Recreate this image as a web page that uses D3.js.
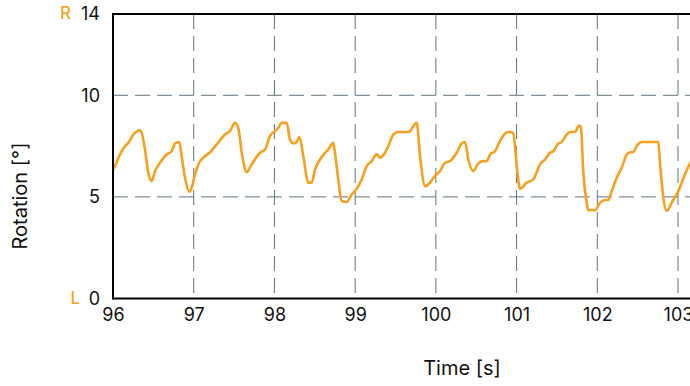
<!DOCTYPE html>
<html><head><meta charset="utf-8">
<script src="https://cdn.jsdelivr.net/npm/d3@7"></script>
<style>
html,body{margin:0;padding:0;background:#fff;}
svg{display:block;font-family:Inter,"Noto Sans",sans-serif;}
</style></head>
<body><svg id="c" width="690" height="386"></svg>
<script>
const times = [96.00,96.025,96.087,96.149,96.190,96.252,96.335,96.356,96.396,96.437,96.479,96.520,96.582,96.665,96.727,96.768,96.821,96.851,96.892,96.945,96.975,
97.016,97.057,97.140,97.202,97.285,97.388,97.450,97.512,97.552,97.595,97.656,97.718,97.821,97.883,97.945,
98.007,98.048,98.090,98.152,98.193,98.234,98.276,98.308,98.358,98.420,98.462,98.503,98.565,98.627,98.667,98.729,98.750,98.791,98.833,98.895,98.957,
99.019,99.081,99.143,99.205,99.267,99.308,99.370,99.411,99.473,99.535,99.659,99.763,99.804,99.866,99.927,99.989,
100.051,100.113,100.175,100.258,100.320,100.361,100.402,100.464,100.526,100.588,100.630,100.671,100.733,100.795,100.857,100.897,100.959,
101.002,101.043,101.126,101.207,101.290,101.352,101.414,101.455,101.517,101.559,101.621,101.662,101.724,101.774,101.798,101.827,101.869,101.889,101.972,
102.034,102.096,102.136,102.179,102.240,102.302,102.364,102.405,102.446,102.488,102.550,102.756,102.777,102.818,102.860,102.922,
103.004,103.087,103.149,103.2];
const rotation = [6.35,6.52,7.09,7.50,7.66,8.07,8.28,8.15,7.33,6.19,5.78,6.27,6.68,7.09,7.25,7.63,7.70,7.00,5.94,5.26,5.45,
6.11,6.60,7.00,7.20,7.58,8.07,8.24,8.64,8.40,7.17,6.22,6.60,7.17,7.33,7.99,
8.24,8.40,8.64,8.64,7.82,7.63,7.70,7.96,7.00,5.70,5.70,6.35,6.84,7.17,7.33,7.66,7.17,5.86,4.80,4.75,5.12,
5.40,5.86,6.52,6.76,7.09,6.93,7.17,7.50,8.07,8.19,8.19,8.64,7.00,5.53,5.70,6.03,
6.27,6.68,6.76,7.17,7.63,7.70,6.84,6.27,6.65,6.76,6.76,7.09,7.25,7.75,8.12,8.19,8.15,
6.52,5.40,5.70,5.86,6.60,6.84,7.17,7.25,7.63,7.70,8.07,8.19,8.19,8.51,8.40,6.19,4.72,4.34,4.34,
4.72,4.85,4.85,5.29,5.94,6.43,7.09,7.20,7.20,7.50,7.70,7.70,6.68,4.96,4.31,4.72,
5.29,6.11,6.65,7.0];
const xTicks = [96,97,98,99,100,101,102,103];
const yTicks = [0,5,10,14];
const yGrid = [5,10];
const xLabel = "Time [s]";
const yLabel = "Rotation [°]";
const sideLabels = [{text:"R", value:14},{text:"L", value:0}];

(function(){
const svg = d3.select("#c");
const pL = 113, pR = 690, pT = 14, pB = 298.5;
const x = d3.scaleLinear().domain([96,103]).range([pL,678]);
const y = d3.scaleLinear().domain([0,14]).range([pB,pT]);
const orange = "#f5a01f";
const gridCol = "#62737d";

svg.append("defs").append("clipPath").attr("id","clip")
  .append("rect").attr("x",pL).attr("y",pT-2).attr("width",pR-pL).attr("height",pB-pT+4);

// grid
svg.append("g").selectAll("line").data(xTicks.filter(t=>t>96)).join("line")
  .attr("x1",d=>x(d)).attr("x2",d=>x(d)).attr("y1",pT).attr("y2",pB)
  .attr("stroke",gridCol).attr("stroke-width",1).attr("stroke-dasharray","15,7");
svg.append("g").selectAll("line").data(yGrid).join("line")
  .attr("x1",pL).attr("x2",pR).attr("y1",d=>y(d)).attr("y2",d=>y(d))
  .attr("stroke",gridCol).attr("stroke-width",1).attr("stroke-dasharray","15,7");

// line
const pts = times.map((t,i)=>[t,rotation[i]]);
svg.append("path").datum(pts).attr("clip-path","url(#clip)")
  .attr("fill","none").attr("stroke",orange).attr("stroke-width",2.6)
  .attr("stroke-linejoin","round")
  .attr("d",d3.line().curve(d3.curveMonotoneX).x(d=>x(d[0])).y(d=>y(d[1])));

// axes
const xAxis = d3.axisBottom(x).tickValues(xTicks).tickSize(0).tickPadding(10).tickFormat(d3.format("d"));
const gx = svg.append("g").attr("transform",`translate(0,${pB})`).call(xAxis);
gx.select(".domain").remove();
gx.selectAll("text").attr("font-size",18).attr("fill","#111").attr("font-family","Inter,sans-serif");

const yAxis = d3.axisLeft(y).tickValues(yTicks).tickSize(0).tickPadding(13).tickFormat(d3.format("d"));
const gy = svg.append("g").attr("transform",`translate(${pL},0)`).call(yAxis);
gy.select(".domain").remove();
gy.selectAll("text").attr("font-size",18).attr("fill","#111").attr("font-family","Inter,sans-serif");

// frame
svg.append("line").attr("x1",pL).attr("x2",pL).attr("y1",pT-1).attr("y2",pB+1).attr("stroke","#000").attr("stroke-width",2);
svg.append("line").attr("x1",pL-1).attr("x2",pR).attr("y1",pB).attr("y2",pB).attr("stroke","#000").attr("stroke-width",2);
svg.append("line").attr("x1",pL-1).attr("x2",pR).attr("y1",pT).attr("y2",pT).attr("stroke","#000").attr("stroke-width",2);

// side labels R / L
svg.append("g").selectAll("text").data(sideLabels).join("text")
  .attr("x",d=>d.text==="R"?71:80).attr("y",d=>y(d.value)).attr("dy","0.32em")
  .attr("text-anchor","end").attr("font-size",17).attr("font-weight",500).attr("fill","#f5a524")
  .text(d=>d.text);

// titles
svg.append("text").attr("x",462).attr("y",375).attr("text-anchor","middle")
  .attr("font-size",20).attr("fill","#111").text(xLabel);
svg.append("text").attr("transform","translate(27,196) rotate(-90)").attr("text-anchor","middle")
  .attr("font-size",20).attr("fill","#111").text(yLabel);
})();
</script></body></html>
